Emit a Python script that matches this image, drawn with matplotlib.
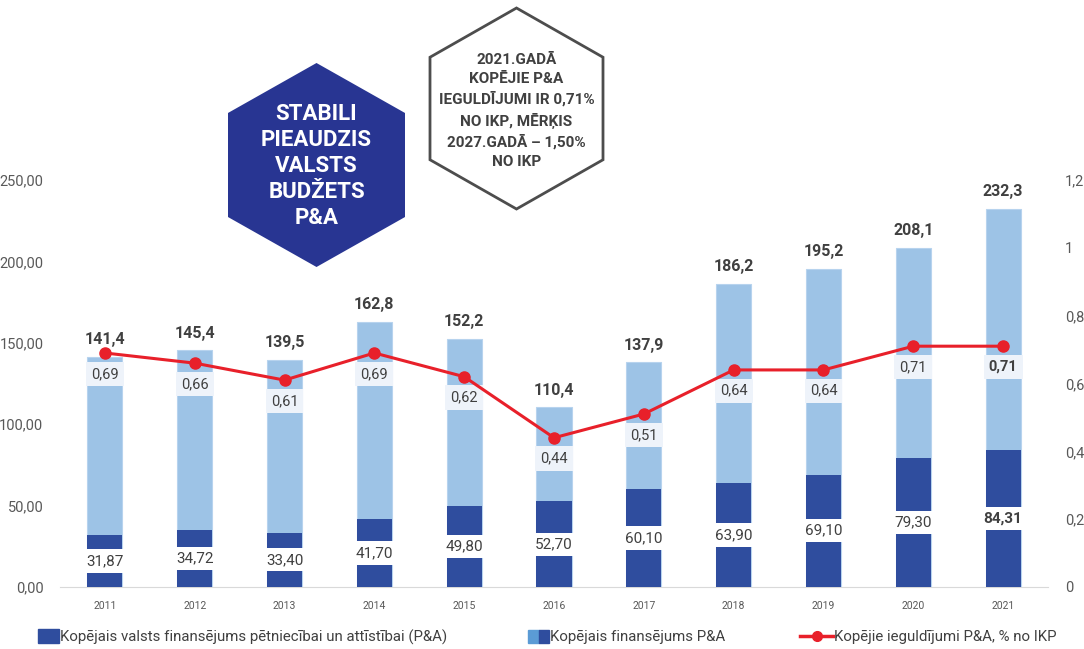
import matplotlib.pyplot as plt
from matplotlib.patches import Polygon, Patch
from matplotlib.lines import Line2D
from matplotlib.legend_handler import HandlerTuple

plt.rcParams['font.family'] = ['Liberation Sans Narrow', 'Roboto', 'DejaVu Sans']

years = ['2011', '2012', '2013', '2014', '2015', '2016', '2017', '2018', '2019', '2020', '2021']
total = [141.4, 145.4, 139.5, 162.8, 152.2, 110.4, 137.9, 186.2, 195.2, 208.1, 232.3]
state = [31.87, 34.72, 33.40, 41.70, 49.80, 52.70, 60.10, 63.90, 69.10, 79.30, 84.31]
pct = [0.69, 0.66, 0.61, 0.69, 0.62, 0.44, 0.51, 0.64, 0.64, 0.71, 0.71]

light = '#9dc3e6'
dark = '#2f4d9e'
red = '#e8202a'
txt = '#404040'

fig = plt.figure(figsize=(10.84, 6.49), dpi=100)
ax = fig.add_axes([60 / 1084, 1 - 587 / 649, 988 / 1084, 407 / 649])
x = list(range(len(years)))

ax.bar(x, total, width=0.39, color=light, edgecolor='#b7d3ee', linewidth=0.8, zorder=2)
ax.bar(x, state, width=0.39, color=dark, zorder=3)
ax.set_xlim(-0.5, 10.5)
ax.set_ylim(0, 250)
ax.set_yticks([0, 50, 100, 150, 200, 250])
ax.set_yticklabels([f'{v:.2f}'.replace('.', ',') for v in [0, 50, 100, 150, 200, 250]])
ax.set_xticks(x)
ax.set_xticklabels(years)
ax.tick_params(axis='y', length=0, labelsize=10.5, labelcolor='#595959', pad=12)
ax.tick_params(axis='x', length=0, labelsize=7.5, labelcolor='#595959', pad=10)
for s in ['top', 'right', 'left']:
    ax.spines[s].set_visible(False)
ax.spines['bottom'].set_color('#d9d9d9')

for i in x:
    bold = 'bold' if i == len(x) - 1 else 'normal'
    ax.annotate(f'{total[i]:.1f}'.replace('.', ','), (i, total[i]), xytext=(0, 7),
                textcoords='offset points', ha='center', va='bottom',
                fontsize=11.5, fontweight='bold', color=txt, zorder=6)
    ax.text(i, state[i] / 2, f'{state[i]:.2f}'.replace('.', ','), ha='center', va='center',
            fontsize=11, fontweight=bold, color=txt, zorder=5,
            bbox=dict(boxstyle='square,pad=0.3', fc='white', ec='none'))

ax2 = ax.twinx()
ax2.set_ylim(0, 1.2)
ax2.set_yticks([0, 0.2, 0.4, 0.6, 0.8, 1.0, 1.2])
ax2.set_yticklabels(['0', '0,2', '0,4', '0,6', '0,8', '1', '1,2'])
ax2.tick_params(axis='y', length=0, labelsize=10.5, labelcolor='#595959', pad=12)
for s in ['top', 'right', 'left', 'bottom']:
    ax2.spines[s].set_visible(False)
ax2.plot(x, pct, color=red, linewidth=2.2, marker='o', markersize=8, zorder=4)
for i in x:
    bold = 'bold' if i == len(x) - 1 else 'normal'
    ax2.annotate(f'{pct[i]:.2f}'.replace('.', ','), (i, pct[i]), xytext=(0, -15),
                 textcoords='offset points', ha='center', va='center',
                 fontsize=10.5, fontweight=bold, color=txt,
                 bbox=dict(boxstyle='square,pad=0.35', fc='#eef3fa', ec='none'))

# hexagon callouts in pixel coordinates
ov = fig.add_axes([0, 0, 1, 1], zorder=10)
ov.set_xlim(0, 1084)
ov.set_ylim(649, 0)
ov.axis('off')
ov.patch.set_alpha(0)


def hexagon(cx, top, bottom, half_w):
    h = bottom - top
    return [(cx, top), (cx + half_w, top + h * 0.245), (cx + half_w, bottom - h * 0.245),
            (cx, bottom), (cx - half_w, bottom - h * 0.245), (cx - half_w, top + h * 0.245)]


ov.add_patch(Polygon(hexagon(316.5, 63, 267, 88.5), closed=True, fc='#283592', ec='none'))
ov.text(316.5, 166, 'STABILI\nPIEAUDZIS\nVALSTS\nBUDŽETS\nP&A', ha='center', va='center',
        color='white', fontsize=16, fontweight='bold', linespacing=1.25)
ov.add_patch(Polygon(hexagon(516.5, 8, 209, 86.5), closed=True, fc='white', ec='#4d4d4d', lw=2))
ov.text(516.5, 111, '2021.GADĀ\nKOPĒJIE P&A\nIEGULDĪJUMI IR 0,71%\nNO IKP, MĒRĶIS\n2027.GADĀ – 1,50%\nNO IKP',
        ha='center', va='center', color=txt, fontsize=11, fontweight='bold', linespacing=1.45)

h1 = Patch(color=dark)
h2 = (Patch(color='#5b9bd5'), Patch(color=dark))
h3 = Line2D([], [], color=red, linewidth=2.5, marker='o', markersize=7)
leg_kw = dict(frameon=False, fontsize=10.8, labelcolor=txt, handlelength=1.4,
              handleheight=1.0, handletextpad=0.1, borderaxespad=0, loc='center left')
l1 = fig.legend([h1], ['Kopējais valsts finansējums pētniecībai un attīstībai (P&A)'],
                bbox_to_anchor=(32 / 1084, 1 - 637 / 649), **leg_kw)
l2 = fig.legend([h2], ['Kopējais finansējums P&A'],
                handler_map={tuple: HandlerTuple(ndivide=None, pad=0)},
                bbox_to_anchor=(522 / 1084, 1 - 637 / 649), **leg_kw)
l3 = fig.legend([h3], ['Kopējie ieguldījumi P&A, % no IKP'],
                bbox_to_anchor=(794 / 1084, 1 - 637 / 649), **dict(leg_kw, handlelength=2.2))

fig.savefig('out.png', dpi=100)
